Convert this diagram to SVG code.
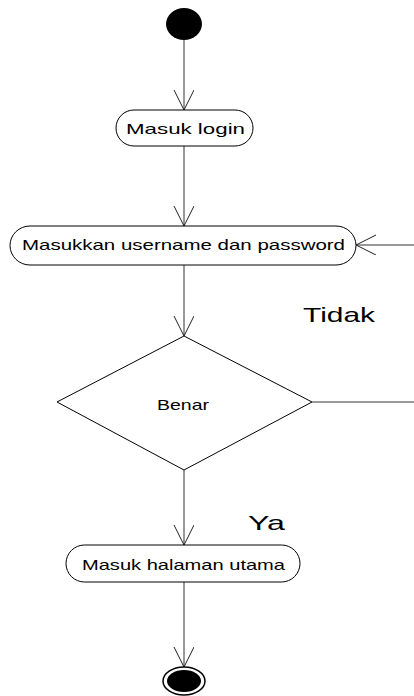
<svg xmlns="http://www.w3.org/2000/svg" width="414" height="696" viewBox="0 0 414 696">
  <defs>
    <marker id="open" markerWidth="22" markerHeight="22" refX="20" refY="10" orient="auto" markerUnits="userSpaceOnUse">
      <path d="M0,0 L20,10 L0,20" fill="none" stroke="#222" stroke-width="1"/>
    </marker>
  </defs>
  <style>
    .act { fill: #fff; stroke: #000; stroke-width: 1; }
    .lbl { font-family: "Liberation Sans", Arial, sans-serif; font-size: 15px; fill: #000; text-anchor: middle; }
    .big { font-family: "Liberation Sans", Arial, sans-serif; font-size: 21px; fill: #000; }
    .edge { fill: none; stroke: #333; stroke-width: 1; }
  </style>
  <rect width="414" height="696" fill="#fff"/>

  <g id="connectors">
    <line class="edge" x1="184" y1="40" x2="184" y2="110" marker-end="url(#open)"/>
    <line class="edge" x1="184" y1="146" x2="184" y2="226" marker-end="url(#open)"/>
    <line class="edge" x1="184" y1="265" x2="184" y2="336" marker-end="url(#open)"/>
    <line class="edge" x1="184" y1="470" x2="184" y2="545" marker-end="url(#open)"/>
    <line class="edge" x1="184" y1="582" x2="184" y2="667" marker-end="url(#open)"/>
    <line class="edge" x1="312" y1="402" x2="414" y2="402" stroke="#888"/>
    <line class="edge" x1="414" y1="245" x2="356" y2="245" marker-end="url(#open)"/>
  </g>

  <g id="start">
    <ellipse cx="184" cy="24" rx="18" ry="16" fill="#000"/>
  </g>

  <g id="masuk-login">
    <rect class="act" x="116" y="110" width="137" height="36" rx="18" ry="18"/>
    <text class="lbl" x="185.5" y="134" textLength="119" lengthAdjust="spacingAndGlyphs">Masuk login</text>
  </g>

  <g id="input-credentials">
    <rect class="act" x="10" y="226" width="346" height="39" rx="20" ry="19.5"/>
    <text class="lbl" x="183.5" y="250" textLength="323" lengthAdjust="spacingAndGlyphs">Masukkan username dan password</text>
  </g>

  <g id="decision">
    <polygon class="act" points="184,336 312,402 184,470 57,402"/>
    <text class="lbl" x="183" y="410" textLength="52" lengthAdjust="spacingAndGlyphs">Benar</text>
  </g>

  <g id="label-tidak">
    <text class="big" x="303" y="322" textLength="72" lengthAdjust="spacingAndGlyphs">Tidak</text>
  </g>

  <g id="label-ya">
    <text class="big" x="248" y="530" textLength="37" lengthAdjust="spacingAndGlyphs">Ya</text>
  </g>

  <g id="masuk-halaman">
    <rect class="act" x="66" y="545" width="234" height="37" rx="18.5" ry="18.5"/>
    <text class="lbl" x="183.5" y="570" textLength="203" lengthAdjust="spacingAndGlyphs">Masuk halaman utama</text>
  </g>

  <g id="end">
    <ellipse cx="184" cy="681" rx="21" ry="14" fill="#fff" stroke="#000" stroke-width="1.5"/>
    <ellipse cx="184" cy="681" rx="17" ry="11" fill="#000"/>
  </g>
</svg>
